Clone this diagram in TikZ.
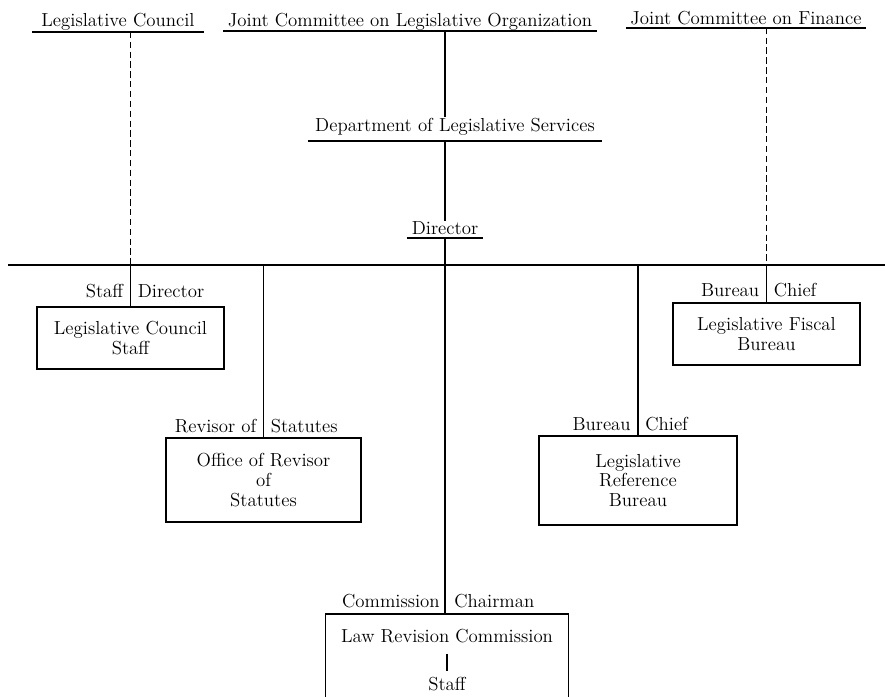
\documentclass[tikz,border=0pt]{standalone}
\begin{document}
\begin{tikzpicture}[x=0.025cm, y=-0.025cm,
    txt/.style={font=\fontsize{13.4}{14}\selectfont, inner sep=0pt},
    head/.style={txt, anchor=base, inner xsep=#1},
    unit/.style={txt, draw, line width=1pt, align=center},
    lbl/.style={txt},
    rule/.style={line width=1.2pt},
    link/.style={line width=1.2pt, dash pattern=on 4.5pt off 2.5pt}]
  \def\px{0.025cm}
  % Page frame, also cuts off the foot of the last box
  \clip (0,0) rectangle (885,696);

  % Bodies on the top line
  \node[head=6.5pt] (legc) at (118,27) {Legislative Council};
  \node[head=3pt] (jclo) at (410,27) {Joint Committee on Legislative Organization};
  \node[head=3pt] (jcf) at (746,25) {Joint Committee on Finance};
  % Department and its director
  \node[head=5pt] (dls) at (455,131) {Department of Legislative Services};
  \node[head=3.5pt] (dir) at (445,234) {Director};

  % Underlines below the heads
  \foreach \n/\d in {legc/3.5pt, jclo/2.8pt, jcf/2pt, dls/7pt, dir/2.8pt} {
    \coordinate (\n-ul) at ([yshift=-\d]\n.base);
    \draw[rule] ([yshift=-\d]\n.base west) -- ([yshift=-\d]\n.base east);
  }

  % Units (centre, width and height in px)
  \node[unit, minimum width=187*\px, minimum height=62*\px] (lcs) at (130.5,338) {Legislative Council\\Staff};
  \node[unit, minimum width=187*\px, minimum height=62*\px] (lfb) at (766.5,334) {Legislative Fiscal\\Bureau};
  \node[unit, minimum width=195*\px, minimum height=84*\px] (ors) at (263.5,480) {Office of Revisor\\of\\Statutes};
  \node[unit, minimum width=198*\px, minimum height=89*\px] (lrb) at (638,480.5) {Legislative\\Reference\\Bureau};
  \node[unit, minimum width=243*\px, minimum height=100*\px] (lrc) at (447,664) {};
  \node[txt, anchor=base] (lrcname) at (447,642) {Law Revision Commission};
  \node[txt, anchor=base] (lrcstaff) at (447,690) {Staff};
  \draw[rule, shorten <=7.8pt, shorten >=4pt] (lrcname) -- (lrcstaff);

  % Main spine
  \draw[rule] (dir-ul |- jclo-ul) -- (dir-ul |- dls.north);
  \draw[rule] (dir-ul |- dls-ul) -- (dir.north);
  \draw[rule] (dir-ul) -- (dir-ul |- lrc.north);

  % Cross bar
  \coordinate (tw) at (8,265);
  \coordinate (te) at (885,265);
  \draw[rule] (tw) -- (te);

  % Dashed ties from council and finance committee
  \draw[link] (lcs.north |- legc-ul) -- (lcs.north |- tw);
  \draw[link] (lfb.north |- jcf-ul) -- (lfb.north |- tw);

  % Drops to the units, with their two head labels
  \foreach \b/\l/\r/\g in {lcs/Staff/Director/6.4pt, ors/Revisor of/Statutes/3.5pt,
      lrb/Bureau/Chief/3.5pt, lfb/Bureau/Chief/4.3pt, lrc/Commission/Chairman/4.3pt} {
    \node[lbl, anchor=base east] (\b-l) at ([xshift=-5pt, yshift=\g]\b.north) {\l};
    \node[lbl, anchor=base west] (\b-r) at ([xshift=5pt, yshift=\g]\b.north) {\r};
  }
  \foreach \b in {lcs, ors, lrb, lfb}
    \draw[rule] (\b.north |- tw) -- (\b.north);
\end{tikzpicture}
\end{document}
